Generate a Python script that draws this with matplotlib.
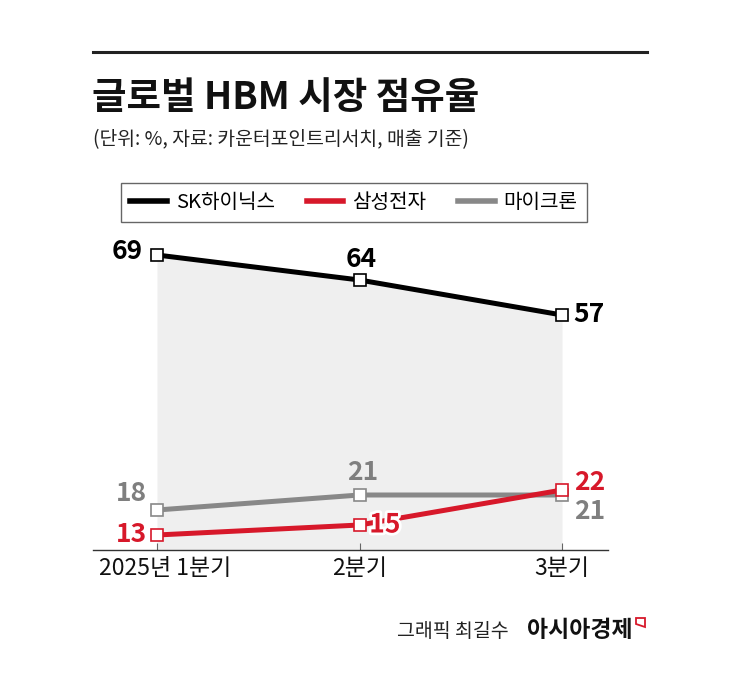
import matplotlib
matplotlib.use('Agg')
import matplotlib.pyplot as plt
import matplotlib.patheffects as pe
import matplotlib.transforms as mtransforms
from matplotlib.lines import Line2D
from matplotlib.patches import Polygon

plt.rcParams['font.family'] = ['Noto Sans CJK KR', 'DejaVu Sans']

# data (share of global HBM market, %)
quarters = ['2025년 1분기', '2분기', '3분기']
companies = ['SK하이닉스', '삼성전자', '마이크론']
sk_hynix = [69, 64, 57]
samsung = [13, 15, 22]
micron = [18, 21, 21]

RED = '#d7182a'
GRAY = '#888888'
W, H = 745, 676


def fx(px):
    return px / W


def fy(py):
    return 1 - py / H


fig = plt.figure(figsize=(W / 100, H / 100), dpi=100)
fig.patch.set_facecolor('white')

ax = fig.add_axes([fx(93), fy(550), fx(608) - fx(93), fy(240) - fy(550)])
x = list(range(len(quarters)))

# shaded area under SK hynix line
ax.fill_between(x, sk_hynix, 10, color='#efefef', lw=0, zorder=0)

series = [
    (sk_hynix, 'black'),
    (micron, GRAY),
    (samsung, RED),
]
for i, (vals, col) in enumerate(series):
    ax.plot(x, vals, color=col, lw=3.6, solid_capstyle='butt', zorder=2 + i,
            marker='s', markersize=8, markerfacecolor='white',
            markeredgecolor=col, markeredgewidth=1.2)

# value labels: (dx, dy) in points, alignment
sk_offsets = [(-10, -3, 'right'), (1.5, 9.5, 'center'), (8, -4.7, 'left')]
sam_offsets = [(-7, -5.4, 'right'), (7, -5.4, 'left'), (9, 0, 'left')]
mic_offsets = [(-7, 6.8, 'right'), (2, 10.8, 'center'), (9, -17.6, 'left')]

for vals, offs, tcol in [(sk_hynix, sk_offsets, 'black'),
                         (micron, mic_offsets, '#7f7f7f'),
                         (samsung, sam_offsets, RED)]:
    for xi, v, (dx, dy, ha) in zip(x, vals, offs):
        t = ax.annotate(str(v), (xi, v), xytext=(dx, dy), textcoords='offset points',
                        ha=ha, va='baseline', fontsize=19, fontweight='semibold',
                        color=tcol, zorder=6)
        if vals is samsung and xi == 1:
            t.set_path_effects([pe.withStroke(linewidth=4, foreground='white')])

ax.set_xlim(-0.316, 2.227)
ax.set_ylim(10, 72)
ax.set_xticks(x)
ax.set_xticklabels(quarters, fontsize=16.5, color='#111111')
ax.set_yticks([])
ax.tick_params(axis='x', direction='in', length=5, width=0.8, color='#666666', pad=5)
# first label sits a little right of its tick in the original
lab0 = ax.get_xticklabels()[0]
lab0.set_transform(lab0.get_transform() + mtransforms.ScaledTranslation(8 / 100, 0, fig.dpi_scale_trans))
for s in ['top', 'left', 'right']:
    ax.spines[s].set_visible(False)
ax.spines['bottom'].set_color('#333333')
ax.spines['bottom'].set_linewidth(1.0)
ax.patch.set_alpha(0)

# legend
handles = [Line2D([], [], color=c, lw=4) for c in ['black', RED, GRAY]]
leg = fig.legend(handles, companies, loc='center', bbox_to_anchor=(fx(354), fy(202.5)),
                 ncol=3, fontsize=14.5, frameon=True, fancybox=False, framealpha=1,
                 edgecolor='#666666', handlelength=1.8, handletextpad=0.45,
                 columnspacing=1.6, borderpad=0.45)
leg.get_frame().set_linewidth(1.0)

# header
fig.add_artist(Line2D([fx(93), fx(647)], [fy(52), fy(52)], color='#222222', lw=2.2))
fig.text(fx(92), fy(109), '글로벌 HBM 시장 점유율', fontsize=27, fontweight='bold',
         ha='left', va='baseline', color='#111111')
fig.text(fx(93), fy(145), '(단위: %, 자료: 카운터포인트리서치, 매출 기준)', fontsize=13.9,
         ha='left', va='baseline', color='#222222')

# credit
fig.text(fx(509), fy(637), '그래픽 최길수', fontsize=14, ha='right', va='baseline', color='#222222')
fig.text(fx(633), fy(637), '아시아경제', fontsize=16.5, fontweight='bold', ha='right',
         va='baseline', color='#111111')
icon = Polygon([(fx(636), fy(618)), (fx(645), fy(618)), (fx(645), fy(627)), (fx(636), fy(624))],
               closed=True, fill=False, edgecolor=RED, lw=1.3, transform=fig.transFigure)
fig.add_artist(icon)

fig.savefig('out.png', dpi=100)
